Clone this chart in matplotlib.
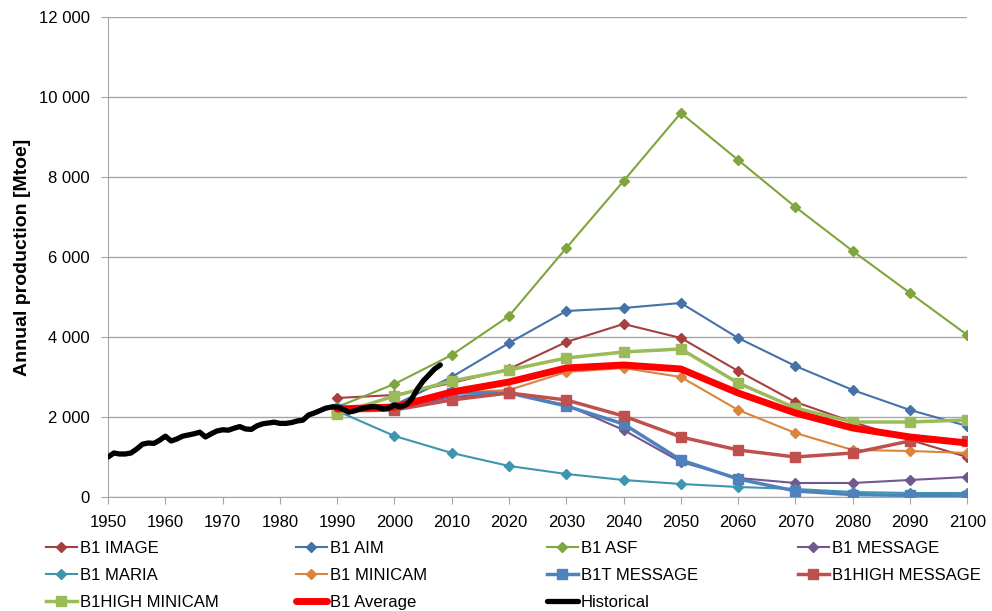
import matplotlib
matplotlib.use("Agg")
import matplotlib.pyplot as plt
from matplotlib.ticker import FuncFormatter
import numpy as np

plt.rcParams['font.family'] = ['Liberation Sans', 'DejaVu Sans']

decades = [1990, 2000, 2010, 2020, 2030, 2040, 2050, 2060, 2070, 2080, 2090, 2100]

b1_image = [2475, 2550, 2850, 3200, 3875, 4325, 3975, 3150, 2375, 1875, 1425, 1000]
b1_aim = [2200, 2300, 3000, 3850, 4650, 4725, 4850, 3975, 3275, 2675, 2175, 1775]
b1_asf = [2250, 2825, 3550, 4525, 6225, 7900, 9600, 8425, 7250, 6150, 5100, 4050]
b1_message = [2200, 2200, 2500, 2600, 2300, 1675, 875, 475, 350, 350, 425, 500]
b1_maria = [2150, 1525, 1100, 775, 575, 425, 325, 250, 200, 125, 100, 100]
b1_minicam = [2200, 2250, 2600, 2675, 3125, 3225, 3000, 2175, 1600, 1175, 1150, 1100]
b1t_message = [2200, 2200, 2600, 2600, 2275, 1825, 925, 450, 150, 60, 40, 30]
b1high_message = [2150, 2175, 2425, 2600, 2425, 2025, 1500, 1175, 1000, 1100, 1400, 1400]
b1high_minicam = [2075, 2525, 2900, 3175, 3475, 3625, 3700, 2850, 2225, 1875, 1875, 1925]
b1_average = [2200, 2250, 2625, 2875, 3225, 3300, 3200, 2600, 2100, 1725, 1500, 1350]

hist_years = list(range(1950, 2009))
historical = [1000, 1100, 1075, 1075, 1100, 1200, 1320, 1350, 1340, 1420,
              1520, 1400, 1450, 1520, 1550, 1580, 1620, 1500, 1580, 1650,
              1680, 1670, 1720, 1760, 1700, 1690, 1780, 1830, 1850, 1870,
              1840, 1840, 1860, 1900, 1920, 2050, 2100, 2160, 2220, 2250,
              2250, 2200, 2120, 2150, 2200, 2230, 2260, 2250, 2200, 2220,
              2300, 2250, 2300, 2450, 2700, 2900, 3050, 3200, 3300]

x_ticks = list(range(1950, 2101, 10))
y_ticks = list(range(0, 12001, 2000))

series = [
    ("B1 IMAGE", b1_image, "#A5403E", "D", 5, 1.5),
    ("B1 AIM", b1_aim, "#4572A7", "D", 5, 1.5),
    ("B1 ASF", b1_asf, "#7FA53E", "D", 5, 1.5),
    ("B1 MESSAGE", b1_message, "#71588F", "D", 5, 1.5),
    ("B1 MARIA", b1_maria, "#3D96AE", "D", 5, 1.5),
    ("B1 MINICAM", b1_minicam, "#DB843D", "D", 5, 1.5),
    ("B1T MESSAGE", b1t_message, "#4F81BD", "s", 7, 2.5),
    ("B1HIGH MESSAGE", b1high_message, "#C0504D", "s", 7, 2.5),
    ("B1HIGH MINICAM", b1high_minicam, "#9BBB59", "s", 7, 2.5),
]

fig = plt.figure(figsize=(9.92, 6.11), dpi=100)
ax = fig.add_axes([0.109, 0.1866, 0.866, 0.7856])

handles = []
for name, vals, col, mk, ms, lw in series:
    h, = ax.plot(decades, vals, color=col, marker=mk, markersize=ms, linewidth=lw,
                 label=name, zorder=3)
    handles.append(h)

h_avg, = ax.plot(decades, b1_average, color="#FF0000", linewidth=5, label="B1 Average",
                 solid_capstyle='round', solid_joinstyle='round', zorder=4)
handles.append(h_avg)
h_hist, = ax.plot(hist_years, historical, color="black", linewidth=3.8, label="Historical",
                  solid_capstyle='round', solid_joinstyle='round', zorder=5)
handles.append(h_hist)

ax.set_xlim(1950, 2100)
ax.set_ylim(0, 12000)
ax.set_xticks(x_ticks)
ax.set_yticks(y_ticks)
ax.yaxis.set_major_formatter(FuncFormatter(lambda v, p: f"{int(v):,}".replace(",", " ")))
ax.grid(axis='y', color='#A6A6A6', linewidth=1)
ax.set_axisbelow(True)
for s in ['top', 'right']:
    ax.spines[s].set_visible(False)
for s in ['left', 'bottom']:
    ax.spines[s].set_color('#A6A6A6')
ax.tick_params(axis='both', colors='#A6A6A6', labelcolor='black', labelsize=12, length=5)
ax.tick_params(axis='x', pad=8)
ax.tick_params(axis='y', pad=8)
ax.set_ylabel("Annual production [Mtoe]", fontsize=14, fontweight='bold', labelpad=6)

# four legend columns at fixed positions, filled row by row
ncol = 4
col_x = [0.046, 0.298, 0.551, 0.804]
for c in range(ncol):
    hs = handles[c::ncol]
    leg = fig.legend(hs, [h.get_label() for h in hs], loc='upper left',
                     bbox_to_anchor=(col_x[c], 0.115), frameon=False, fontsize=12,
                     handlelength=1.9, handletextpad=0.15, borderpad=0,
                     labelspacing=0.72, borderaxespad=0)

fig.savefig("out.png", dpi=100)
